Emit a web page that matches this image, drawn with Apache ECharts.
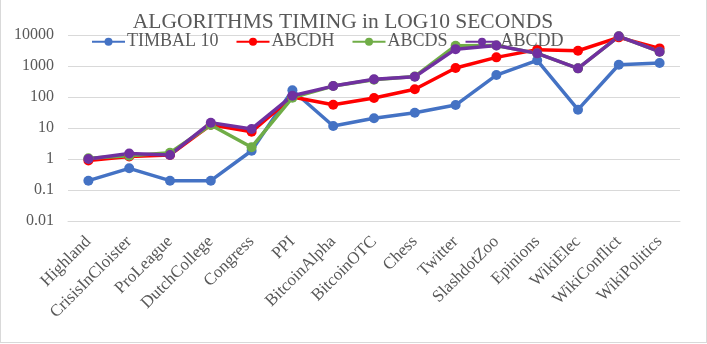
<!DOCTYPE html>
<html>
<head>
    <title>Algorithms Timing</title>
    <script src="https://cdnjs.cloudflare.com/ajax/libs/echarts/6.0.0/echarts.min.js"></script>
    <style>
        body { margin: 0; background: #fff; }
        #chart {
            width: 707px;
            height: 343px;
            box-sizing: border-box;
            border: 1px solid #d9d9d9;
            border-top: none;
        }
    </style>
</head>
<body>
    <div id="chart"></div>

    <script>
        const datasets = ['Highland', 'CrisisInCloister', 'ProLeague', 'DutchCollege', 'Congress', 'PPI',
            'BitcoinAlpha', 'BitcoinOTC', 'Chess', 'Twitter', 'SlashdotZoo', 'Epinions',
            'WikiElec', 'WikiConflict', 'WikiPolitics'];

        const timbal10 = [0.2, 0.5, 0.2, 0.2, 1.85, 165, 11.6, 20.5, 31, 55, 510, 1520, 39, 1100, 1250];
        const abcdh    = [0.9, 1.2, 1.35, 12.7, 7.6, 100, 56, 93, 177, 860, 1900, 3370, 3100, 8400, 3700];
        const abcds    = [1.05, 1.28, 1.6, 12.5, 2.4, 95, 225, 360, 460, 4500, 4600, 2560, 840, 9100, 2900];
        const abcdd    = [1.0, 1.5, 1.35, 14.8, 9.3, 110, 225, 372, 450, 3500, 4600, 2560, 840, 9100, 2900];

        const yTicks = [0.01, 0.1, 1, 10, 100, 1000, 10000];

        const font = '"Liberation Serif", "Times New Roman", serif';

        function makeSeries(name, values, color) {
            return {
                name: name,
                type: 'line',
                data: values,
                symbol: 'circle',
                symbolSize: 10,
                itemStyle: { color: color },
                lineStyle: { color: color, width: 3.5 }
            };
        }

        const chart = echarts.init(document.getElementById('chart'));

        chart.setOption({
            animation: false,
            textStyle: { fontFamily: font },
            title: {
                text: 'ALGORITHMS TIMING in LOG10 SECONDS',
                left: 337,
                textAlign: 'center',
                top: 1,
                textStyle: { fontFamily: font, fontSize: 21.5, fontWeight: 'normal', color: '#595959' }
            },
            legend: {
                left: 85,
                top: 23,
                itemWidth: 33,
                itemHeight: 10,
                itemGap: 17,
                textStyle: { fontFamily: font, fontSize: 18, color: '#595959', padding: [0, 0, 0, -3] },
                data: ['TIMBAL 10', 'ABCDH', 'ABCDS', 'ABCDD']
            },
            grid: { left: 67, right: 26, top: 35, bottom: 121, outerBoundsMode: 'none' },
            xAxis: {
                type: 'category',
                data: datasets,
                boundaryGap: true,
                axisLine: { lineStyle: { color: '#d9d9d9' } },
                axisTick: { show: false },
                axisLabel: {
                    interval: 0,
                    rotate: 45,
                    margin: 18,
                    fontFamily: font,
                    fontSize: 17,
                    color: '#595959'
                }
            },
            yAxis: {
                type: 'log',
                logBase: 10,
                min: yTicks[0],
                max: yTicks[yTicks.length - 1],
                name: 'LOG10 SEC',
                nameLocation: 'middle',
                nameGap: 47,
                nameTextStyle: { fontFamily: font, fontSize: 18, color: '#595959' },
                axisLine: { show: false },
                axisTick: { show: false },
                splitLine: { lineStyle: { color: '#d9d9d9', width: 1 } },
                axisLabel: {
                    margin: 14,
                    fontFamily: font,
                    fontSize: 16,
                    color: '#595959',
                    formatter: v => String(+v.toPrecision(6))
                }
            },
            series: [
                makeSeries('TIMBAL 10', timbal10, '#4472C4'),
                makeSeries('ABCDH', abcdh, '#FF0000'),
                makeSeries('ABCDS', abcds, '#70AD47'),
                makeSeries('ABCDD', abcdd, '#7030A0')
            ]
        });
    </script>
</body>
</html>
